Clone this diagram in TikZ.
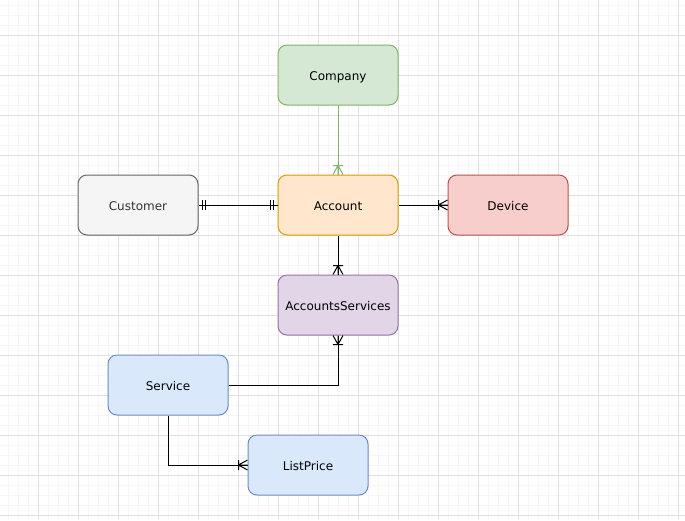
\documentclass[tikz,border=0pt]{standalone}
\usepackage{fontspec}
\setmainfont{DejaVu Sans}
\definecolor{gminor}{HTML}{F6F6F6}
\definecolor{gmajor}{HTML}{E0E0E0}
\definecolor{grFill}{HTML}{D5E8D4}\definecolor{grLine}{HTML}{82B366}
\definecolor{orFill}{HTML}{FFE6CC}\definecolor{orLine}{HTML}{D79B00}
\definecolor{gyFill}{HTML}{F5F5F5}\definecolor{gyLine}{HTML}{666666}\definecolor{gyText}{HTML}{333333}
\definecolor{rdFill}{HTML}{F8CECC}\definecolor{rdLine}{HTML}{B85450}
\definecolor{puFill}{HTML}{E1D5E7}\definecolor{puLine}{HTML}{9673A6}
\definecolor{blFill}{HTML}{DAE8FC}\definecolor{blLine}{HTML}{6C8EBF}
\tikzset{
  entity/.style={rectangle, rounded corners=9pt, minimum width=120pt, minimum height=60pt,
    inner sep=0pt, line width=1pt, font=\fontsize{12pt}{14pt}\selectfont,
    text depth=0pt, text height=10pt},
  rel/.style={line width=1pt, draw=black},
  onemany/.pic={\draw[line width=1pt] (9,0) -- (0,5) (9,0) -- (0,-5) (9,0) -- (0,0) (9,5) -- (9,-5);},
  mandone/.pic={\draw[line width=1pt] (4,5) -- (4,-5) (7,5) -- (7,-5);}
}
\begin{document}
\begin{tikzpicture}[x=1pt,y=-1pt]
\useasboundingbox (0,0) rectangle (685,520);
\fill[white] (0,0) rectangle (685,520);
\foreach \i in {0,...,68} {\draw[gminor,line width=1pt] (8+10*\i,0) -- (8+10*\i,520);}
\foreach \j in {0,...,51} {\draw[gminor,line width=1pt] (0,5+10*\j) -- (685,5+10*\j);}
\foreach \i in {-1,...,16} {\draw[gmajor,line width=1pt] (38+40*\i,0) -- (38+40*\i,520);}
\foreach \j in {-1,...,12} {\draw[gmajor,line width=1pt] (0,35+40*\j) -- (685,35+40*\j);}

\node[entity, fill=grFill, draw=grLine] (company) at (338,75) {Company};
\node[entity, fill=orFill, draw=orLine] (account) at (338,205) {Account};
\node[entity, fill=gyFill, draw=gyLine, text=gyText] (customer) at (138,205) {Customer};
\node[entity, fill=rdFill, draw=rdLine] (device) at (508,205) {Device};
\node[entity, fill=puFill, draw=puLine] (as) at (338,305) {AccountsServices};
\node[entity, fill=blFill, draw=blLine] (service) at (168,385) {Service};
\node[entity, fill=blFill, draw=blLine] (listprice) at (308,465) {ListPrice};

\draw[line width=1pt, draw=grLine] (company.south) -- (account.north);
\pic[rotate=90, draw=grLine, color=grLine] at (account.north) {onemany};
\draw[rel] (customer.east) -- (account.west);
\pic at (customer.east) {mandone};
\pic[rotate=180] at (account.west) {mandone};
\draw[rel] (account.east) -- (device.west);
\pic[rotate=180] at (device.west) {onemany};
\draw[rel] (account.south) -- (as.north);
\pic[rotate=90] at (as.north) {onemany};
\draw[rel] (service.east) -| (as.south);
\pic[rotate=-90] at (as.south) {onemany};
\draw[rel] (service.south) |- (listprice.west);
\pic[rotate=180] at (listprice.west) {onemany};
\end{tikzpicture}
\end{document}
